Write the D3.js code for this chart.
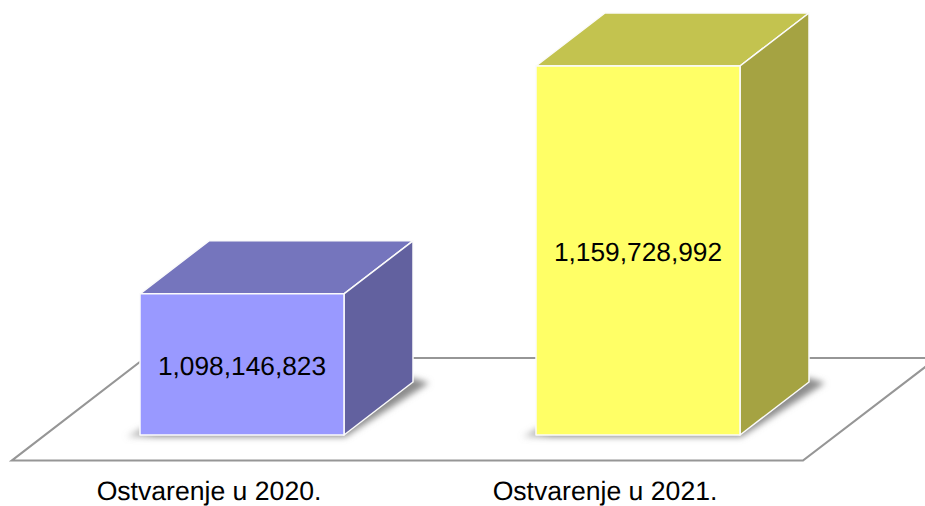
<!DOCTYPE html>
<html lang="en">
<head>
  <meta charset="UTF-8" />
  <title>Ostvarenje</title>
  <script src="https://d3js.org/d3.v7.min.js"></script>
  <style>
    html, body { margin: 0; padding: 0; background: #fff; overflow: hidden; }
    svg { display: block; }
    text { font-family: "Liberation Sans", Arial, sans-serif; fill: #000; text-rendering: geometricPrecision; }
  </style>
</head>
<body>
  <div id="chart"></div>
  <script>
    // ----- Data -----
    const categories = ['Ostvarenje u 2020.', 'Ostvarenje u 2021.'];
    const values = [1098146823, 1159728992];
    const frontColors = ['#9999ff', '#ffff66'];
    const topColors = ['#7575bd', '#c3c34f'];
    const sideColors = ['#62619f', '#a5a342'];

    // ----- Setup -----
    const width = 925, height = 506;
    const depthX = 69, depthY = 53;
    const barW = 204;

    const svg = d3.select('#chart').append('svg')
      .attr('width', width)
      .attr('height', height);

    const defs = svg.append('defs');
    const blur = defs.append('filter').attr('id', 'blur')
      .attr('x', '-20%').attr('y', '-20%').attr('width', '140%').attr('height', '140%');
    blur.append('feGaussianBlur').attr('stdDeviation', 3);
    defs.append('filter').attr('id', 'soft')
      .attr('x', '-5%').attr('y', '-5%').attr('width', '110%').attr('height', '110%')
      .append('feGaussianBlur').attr('stdDeviation', 0.5);

    // shadow fades out towards the left
    const fade = defs.append('linearGradient').attr('id', 'fade');
    fade.append('stop').attr('offset', '0').attr('stop-color', '#8c8c8c').attr('stop-opacity', 0.35);
    fade.append('stop').attr('offset', '0.1').attr('stop-color', '#8c8c8c');
    fade.append('stop').attr('offset', '1').attr('stop-color', '#8c8c8c');

    // ----- Scales -----
    const x = d3.scaleBand().domain(categories).range([11, 803]);
    const y = d3.scaleLinear().domain([1060000000, 1160000000]).range([435, 65]);

    const poly = pts => pts.map(p => p.join(',')).join(' ');

    // ----- Floor -----
    const y0 = y.range()[0];
    const floorFront = 460.5, floorBack = 358;
    svg.append('polygon')
      .attr('points', poly([
        [x.range()[0] + 1, floorFront],
        [x.range()[1], floorFront],
        [x.range()[1] + 134, floorBack],
        [x.range()[0] + 134, floorBack]
      ]))
      .attr('fill', '#fff')
      .attr('stroke', '#969696')
      .attr('stroke-width', 2.2)
      .attr('filter', 'url(#soft)');

    // ----- Bars -----
    const bars = svg.selectAll('g.bar')
      .data(categories)
      .join('g')
      .attr('class', 'bar');

    bars.each(function(cat, i) {
      const g = d3.select(this);
      const x0 = x(cat) + x.bandwidth() / 2 - barW / 2 + 33;
      const x1 = x0 + barW;
      const yTop = y(values[i]);

      // shadow on the floor
      g.append('polygon')
        .attr('points', poly([
          [x0 - 14, y0 + 2],
          [x1 + 1, y0 + 2],
          [x1 + depthX + 16, y0 - depthY + 1],
          [x1 + depthX, y0 - depthY - 4],
          [x0, y0 - 6]
        ]))
        .attr('fill', 'url(#fade)')
        .attr('filter', 'url(#blur)');

      const faces = [
        { fill: topColors[i], pts: [[x0, yTop], [x1, yTop], [x1 + depthX, yTop - depthY], [x0 + depthX, yTop - depthY]] },
        { fill: sideColors[i], pts: [[x1, yTop], [x1 + depthX, yTop - depthY], [x1 + depthX, y0 - depthY], [x1, y0]] },
        { fill: frontColors[i], pts: [[x0, yTop], [x1, yTop], [x1, y0], [x0, y0]] }
      ];

      g.selectAll('polygon.face')
        .data(faces)
        .join('polygon')
        .attr('class', 'face')
        .attr('points', d => poly(d.pts))
        .attr('fill', d => d.fill)
        .attr('stroke', '#fbfbfb')
        .attr('stroke-width', 1.5)
        .attr('stroke-linejoin', 'round');

      // value label
      g.append('text')
        .attr('x', (x0 + x1) / 2)
        .attr('y', (yTop + y0) / 2 + 10.5)
        .attr('text-anchor', 'middle')
        .attr('font-size', '26.3px')
        .text(d3.format(',')(values[i]));
    });

    // ----- Category labels -----
    svg.selectAll('text.cat')
      .data(categories)
      .join('text')
      .attr('class', 'cat')
      .attr('x', d => x(d) + x.bandwidth() / 2)
      .attr('y', 500.3)
      .attr('text-anchor', 'middle')
      .attr('font-size', '26.6px')
      .text(d => d);
  </script>
</body>
</html>
